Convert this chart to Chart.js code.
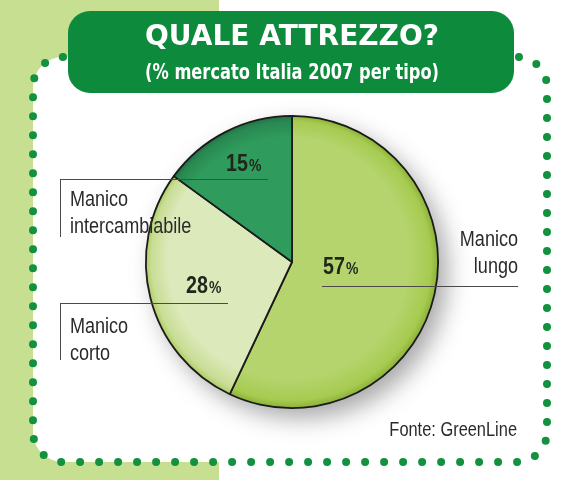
<!DOCTYPE html>
<html>
<head>
<meta charset="utf-8">
<script src="https://cdn.jsdelivr.net/npm/chart.js@4"></script>
<style>
  html, body { margin: 0; padding: 0; background: #fff; }
  #wrap { width: 563px; height: 480px; }
</style>
</head>
<body>
<div id="wrap"><canvas id="pieChart" width="563" height="480"></canvas></div>
<script>
// data
const categories = ['Manico lungo', 'Manico corto', 'Manico intercambiabile'];
const shares = [57, 28, 15];
const titleText = 'QUALE ATTREZZO?';
const subtitleText = '(% mercato Italia 2007 per tipo)';
const sourceText = 'Fonte: GreenLine';

const sliceColors = ['#b5d46e', '#dce9ba', '#2f9b5c'];
const sans = "'Liberation Sans', Arial, sans-serif";

// where each slice's callout goes (pct text, leader line, name)
const callouts = [
  { pct: [323, 274], line: [322, 518, 286], tick: null, name: [518, 246], align: 'right' },
  { pct: [186, 293], line: [60, 228, 303], tick: [303, 360], name: [70, 333], align: 'left' },
  { pct: [226, 171], line: [60, 268, 179], tick: [179, 237], name: [70, 206], align: 'left' }
];

function roundRect(ctx, x, y, w, h, r) {
  ctx.beginPath();
  ctx.moveTo(x + r, y);
  ctx.lineTo(x + w - r, y);
  ctx.arcTo(x + w, y, x + w, y + r, r);
  ctx.lineTo(x + w, y + h - r);
  ctx.arcTo(x + w, y + h, x + w - r, y + h, r);
  ctx.lineTo(x + r, y + h);
  ctx.arcTo(x, y + h, x, y + h - r, r);
  ctx.lineTo(x, y + r);
  ctx.arcTo(x, y, x + r, y, r);
  ctx.closePath();
}

// no narrow font installed, so squeeze Liberation Sans to ~82%
function narrowText(ctx, text, x, y) {
  const w = ctx.measureText(text).width * 0.82;
  ctx.fillText(text, x, y, w);
  return w;
}

// page furniture: side panel, dotted frame, title box
const backdrop = {
  id: 'backdrop',
  beforeDraw(chart) {
    const ctx = chart.ctx;
    ctx.save();
    ctx.fillStyle = '#c6df90';
    ctx.fillRect(0, 0, 219, 480);
    ctx.fillStyle = '#ffffff';
    roundRect(ctx, 33, 57, 514, 405, 30);
    ctx.fill();
    ctx.strokeStyle = '#12913f';
    ctx.lineWidth = 8;
    ctx.lineCap = 'round';
    ctx.setLineDash([0, 19]);
    ctx.stroke();
    ctx.setLineDash([]);
    ctx.fillStyle = '#0e8a3c';
    roundRect(ctx, 68, 11, 446, 82, 22);
    ctx.fill();
    ctx.restore();
  }
};

// soft shadow under the disc
const discShadow = {
  id: 'discShadow',
  beforeDatasetsDraw(chart) {
    const arc = chart.getDatasetMeta(0).data[0];
    if (!arc) return;
    const ctx = chart.ctx;
    ctx.save();
    ctx.shadowColor = 'rgba(0,0,0,0.35)';
    ctx.shadowBlur = 24;
    ctx.shadowOffsetX = 9;
    ctx.shadowOffsetY = 10;
    ctx.fillStyle = '#9fbf5a';
    ctx.beginPath();
    ctx.arc(arc.x, arc.y, arc.outerRadius, 0, Math.PI * 2);
    ctx.fill();
    ctx.restore();
  }
};

// percentages, leader lines and names
const callout = {
  id: 'callout',
  afterDraw(chart) {
    const ctx = chart.ctx;
    ctx.save();
    ctx.strokeStyle = '#4a4a4a';
    ctx.lineWidth = 1;
    callouts.forEach((c, i) => {
      ctx.beginPath();
      ctx.moveTo(c.line[0], c.line[2] + 0.5);
      ctx.lineTo(c.line[1], c.line[2] + 0.5);
      if (c.tick) {
        ctx.moveTo(c.line[0] + 0.5, c.tick[0]);
        ctx.lineTo(c.line[0] + 0.5, c.tick[1]);
      }
      ctx.stroke();

      ctx.textBaseline = 'alphabetic';
      ctx.textAlign = 'left';
      ctx.fillStyle = '#1f261c';
      ctx.font = 'bold 24px ' + sans;
      const w = narrowText(ctx, String(shares[i]), c.pct[0], c.pct[1]);
      ctx.font = 'bold 17px ' + sans;
      narrowText(ctx, '%', c.pct[0] + w + 1, c.pct[1]);

      const words = categories[i].split(' ');
      ctx.font = '22px ' + sans;
      ctx.fillStyle = '#2b2b2b';
      ctx.textAlign = c.align;
      narrowText(ctx, words[0], c.name[0], c.name[1]);
      narrowText(ctx, words.slice(1).join(' '), c.name[0], c.name[1] + 27);
    });
    ctx.font = '20px ' + sans;
    ctx.textAlign = 'right';
    ctx.fillStyle = '#2b2b2b';
    narrowText(ctx, sourceText, 517, 436);
    ctx.restore();
  }
};

function shaded(context) {
  const base = sliceColors[context.dataIndex];
  const chart = context.chart;
  const area = chart.chartArea;
  if (!area) return base;
  const cx = (area.left + area.right) / 2;
  const cy = (area.top + area.bottom) / 2;
  const r = Math.min(area.right - area.left, area.bottom - area.top) / 2;
  const g = chart.ctx.createRadialGradient(cx - r * 0.15, cy - r * 0.15, 0, cx, cy, r);
  g.addColorStop(0, base);
  g.addColorStop(0.82, base);
  g.addColorStop(0.95, Chart.helpers.color(base).darken(0.12).rgbString());
  g.addColorStop(1, Chart.helpers.color(base).darken(0.3).rgbString());
  return g;
}

const ctx = document.getElementById('pieChart').getContext('2d');
new Chart(ctx, {
  type: 'pie',
  data: {
    labels: categories,
    datasets: [{
      data: shares,
      backgroundColor: shaded,
      borderColor: '#1b1b1b',
      borderWidth: 1.8
    }]
  },
  options: {
    responsive: false,
    animation: false,
    layout: { padding: { left: 145, right: 124, top: 0, bottom: 71 } },
    plugins: {
      legend: { display: false },
      tooltip: { enabled: false },
      title: {
        display: true,
        text: titleText,
        color: '#ffffff',
        font: { family: "'DejaVu Sans', sans-serif", size: 29, weight: 'bold', lineHeight: 1.2 },
        padding: { top: 20, bottom: 6 }
      },
      subtitle: {
        display: true,
        text: subtitleText,
        color: '#ffffff',
        font: { family: "'DejaVu Sans Condensed', sans-serif", size: 21, weight: 'bold', lineHeight: 1.2 },
        padding: { top: 0, bottom: 29 }
      }
    }
  },
  plugins: [backdrop, discShadow, callout]
});
</script>
</body>
</html>
